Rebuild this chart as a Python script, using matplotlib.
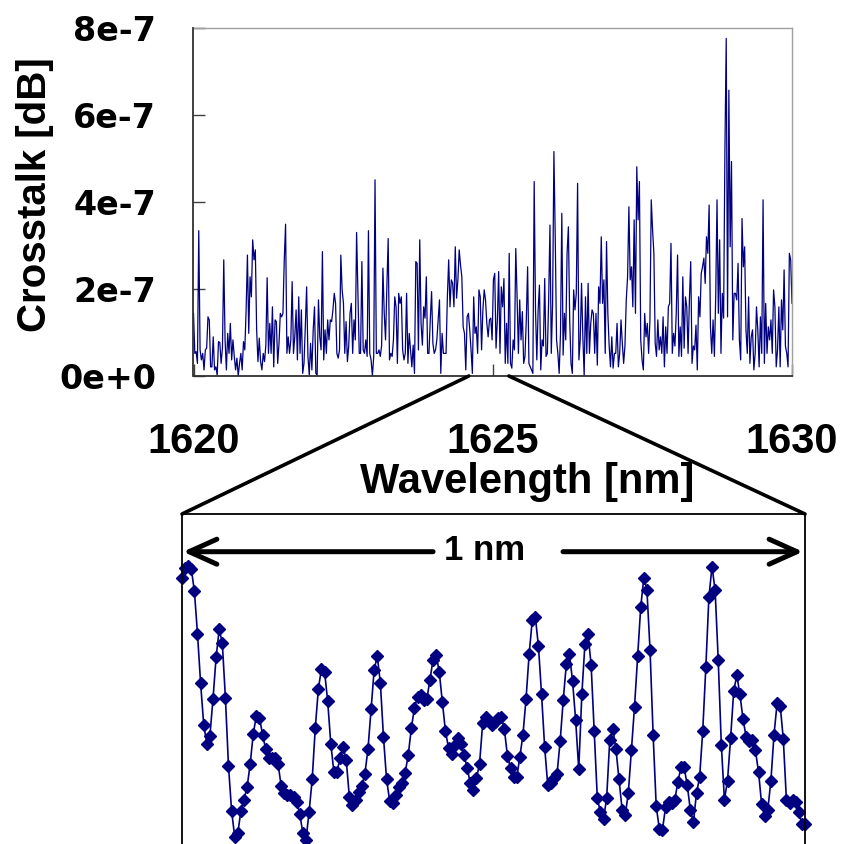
import numpy as np
import matplotlib
matplotlib.use('Agg')
import matplotlib.pyplot as plt
from matplotlib.patches import ConnectionPatch

plt.rcParams['font.family'] = ['Liberation Sans', 'DejaVu Sans']

# Full-range crosstalk trace (units of 1e-7), 1620-1630 nm
crosstalk_full_e7 = [
    1.44, 0.52, 0.56, 0.29, 3.34, 0.60, 0.37, 0.52, 0.14, 0.60,
    0.64, 1.36, 1.29, 0.21, 0.21, 0.90, 0.14, 0.21, 0.02, 0.79,
    0.77, 0.29, 0.64, 2.67, 0.83, 0.14, 0.98, 0.52, 1.21, 0.37,
    0.83, 0.45, 0.14, 0.41, 0.00, 0.29, 0.52, 0.14, 0.79, 0.60,
    1.52, 2.78, 0.98, 2.28, 1.82, 3.13, 2.67, 2.90, 1.06, 0.33,
    0.87, 0.33, 0.14, 0.52, 0.33, 0.71, 2.26, 0.52, 1.21, 0.52,
    1.59, 0.21, 1.29, 1.25, 0.29, 0.75, 1.44, 1.36, 1.44, 2.67,
    3.49, 0.52, 0.90, 0.52, 0.83, 2.17, 0.52, 0.90, 1.52, 0.37,
    1.82, 0.52, 1.52, 0.06, 0.29, 1.13, 2.05, 0.45, 0.02, 0.75,
    0.14, 1.06, 1.59, 0.06, 0.02, 1.75, 0.90, 0.60, 2.86, 0.37,
    1.06, 0.52, 1.29, 0.83, 1.29, 1.25, 1.52, 1.90, 1.67, 0.52,
    0.41, 0.60, 2.78, 1.98, 1.67, 0.52, 1.25, 0.33, 0.69, 1.44,
    1.67, 0.52, 1.29, 0.83, 3.30, 1.90, 0.52, 0.52, 2.63, 0.60,
    0.52, 0.83, 0.45, 3.34, 0.52, 0.37, 0.00, 0.45, 4.51, 0.52,
    0.52, 0.60, 0.45, 0.69, 2.48, 1.44, 0.83, 2.05, 3.16, 0.37,
    0.52, 0.45, 0.83, 1.82, 1.59, 0.29, 1.90, 1.67, 1.82, 0.60,
    0.37, 0.52, 1.90, 0.29, 0.98, 0.60, 0.21, 0.71, 0.06, 2.63,
    2.59, 0.60, 3.13, 1.21, 0.71, 1.59, 1.33, 2.28, 0.52, 0.52,
    1.29, 1.94, 0.75, 0.52, 0.60, 0.83, 1.29, 1.75, 0.06, 0.98,
    0.52, 0.52, 0.52, 1.82, 2.67, 1.59, 2.21, 2.13, 1.59, 2.97,
    1.79, 2.21, 2.90, 2.55, 2.28, 1.13, 0.98, 0.14, 1.36, 1.44,
    1.06, 0.60, 0.06, 1.82, 0.98, 1.13, 0.52, 1.98, 1.82, 0.60,
    1.52, 1.98, 1.75, 1.21, 0.90, 1.29, 1.33, 0.83, 2.21, 2.36,
    0.64, 1.29,
    2.40, 0.52, 2.05, 1.59, 2.24, 0.29, 1.21, 0.29, 2.82, 0.29,
    0.18, 0.83, 0.60, 2.93, 1.82, 0.52, 1.75, 0.83, 1.48, 0.29,
    0.45, 1.29, 2.51, 0.29, 0.21, 0.14, 0.06, 4.47, 1.52, 0.37,
    1.52, 2.09, 0.14, 0.83, 0.69, 2.24, 0.45, 0.52, 1.75, 3.47,
    0.52, 1.67, 5.16, 3.20, 0.83, 0.52, 0.06, 0.98, 3.74, 0.48,
    1.44, 0.83, 2.82, 3.43, 1.29, 0.29, 0.06, 1.98, 1.52, 1.90,
    4.43, 0.37, 0.83, 2.13, 0.90, 0.00, 1.82, 0.52, 2.13, 0.52,
    1.21, 1.52, 1.44, 0.52, 1.44, 0.25, 2.05, 1.67, 3.20, 1.67,
    2.21, 0.52, 3.09, 1.44, 0.69, 0.21, 0.90, 0.18, 0.52, 0.52,
    1.21, 0.21, 0.52, 1.29, 0.75, 0.29, 0.69, 1.75, 2.28, 3.89,
    2.21, 2.51, 1.59, 3.59, 1.44, 4.81, 3.59, 4.47, 0.83, 0.37,
    0.14, 1.44, 0.90, 1.21, 0.52, 1.29, 4.05, 3.36, 2.82, 0.75,
    0.45, 1.29, 0.60, 0.90, 0.52, 1.36, 0.21, 1.13, 0.52, 1.59,
    1.67, 3.05, 0.52, 0.98, 0.69, 1.44, 2.78, 0.45, 1.13, 0.45,
    2.28, 0.64, 1.82, 1.59, 0.52, 1.75, 2.63, 0.29, 0.69, 0.60,
    1.17, 0.14, 1.82, 1.36, 2.36, 2.51, 2.71, 2.13, 3.20, 2.82,
    3.93, 1.13, 0.52, 1.29, 0.45, 1.82, 4.05, 1.44, 3.13, 0.52,
    1.90, 1.33, 5.20, 7.76, 1.36, 6.57, 2.97, 4.93, 0.83, 1.90,
    1.90, 1.75, 2.59, 0.83, 0.37, 3.62, 2.51, 2.97, 1.06, 0.52,
    1.82, 0.29, 0.90, 1.06, 0.14, 0.52, 1.59, 1.06, 0.21, 1.36,
    0.52, 4.05, 0.29, 1.67, 0.52, 1.13, 0.83, 1.29, 0.52, 1.98,
    1.59, 0.21, 0.60, 1.59, 0.21, 1.75, 1.06, 2.44, 0.69, 0.52,
    0.21, 2.82, 2.67, 1.67,
]

# Zoomed 1 nm span (units of 1e-7), 5 pm steps
crosstalk_zoom_e7 = [
    2.43, 2.52, 2.54, 2.51, 2.31, 1.93, 1.49, 1.12, 0.95, 1.02,
    1.35, 1.72, 1.97, 1.85, 1.36, 0.75, 0.35, 0.12, 0.15, 0.35,
    0.45, 0.56, 0.77, 1.04, 1.20, 1.18, 1.03, 0.90, 0.82, 0.82,
    0.82, 0.77, 0.57, 0.51, 0.49, 0.49, 0.47, 0.43, 0.32, 0.15,
    0.09, 0.34, 0.63, 1.09, 1.44, 1.62, 1.59, 1.33, 0.95, 0.70,
    0.70, 0.82, 0.92, 0.80, 0.47, 0.40, 0.45, 0.52, 0.57, 0.68,
    0.90, 1.26, 1.61, 1.73, 1.49, 1.01, 0.63, 0.44, 0.42, 0.49,
    0.56, 0.60, 0.69, 0.85, 1.09, 1.27, 1.37, 1.38, 1.34, 1.35,
    1.52, 1.70, 1.74, 1.59, 1.32, 1.06, 0.91, 0.86, 0.94, 1.00,
    0.95, 0.85, 0.73, 0.60, 0.54, 0.64, 0.77, 1.13, 1.19, 1.15,
    1.12, 1.14, 1.18, 1.19, 1.08, 0.84,
    0.73, 0.65, 0.65, 0.83, 1.03, 1.35, 1.75, 2.05, 2.08, 1.82,
    1.39, 0.92, 0.58, 0.60, 0.64, 0.68, 0.97, 1.34, 1.66, 1.75,
    1.51, 1.16, 0.72, 1.39, 1.84, 1.93, 1.65, 1.06, 0.46, 0.34,
    0.28, 0.46, 0.98, 1.08, 0.90, 0.63, 0.36, 0.31, 0.51, 0.89,
    1.28, 1.73, 2.17, 2.43, 2.32, 1.79, 1.03, 0.39, 0.19, 0.18,
    0.38, 0.43, 0.42, 0.45, 0.61, 0.74, 0.74, 0.58, 0.36, 0.25,
    0.51, 0.65, 1.06, 1.63, 2.26, 2.53, 2.32, 1.70, 0.94, 0.45,
    0.62, 1.00, 1.42, 1.56, 1.39, 1.17, 1.01, 0.97, 0.98, 0.89,
    0.70, 0.41, 0.30, 0.36, 0.62, 1.03, 1.31, 1.29, 0.99, 0.45,
    0.42, 0.45, 0.43, 0.34, 0.23, 0.23,
]

full_range = [1620.0, 1630.0]
zoom_range = [1624.5, 1625.5]
zoom_source = [1624.6, 1625.27]
x_ticks = [1620, 1625, 1630]
y_ticks = [0, 2e-7, 4e-7, 6e-7, 8e-7]
y_tick_labels = ['0e+0', '2e-7', '4e-7', '6e-7', '8e-7']

crosstalk_full = np.array(crosstalk_full_e7) * 1e-7
wavelength_full = np.linspace(full_range[0], full_range[1], len(crosstalk_full))
crosstalk_zoom = np.array(crosstalk_zoom_e7) * 1e-7
wavelength_zoom = np.linspace(zoom_range[0], zoom_range[1], len(crosstalk_zoom))

NAVY = '#000080'
W, H = 845, 844
fig = plt.figure(figsize=(W / 100, H / 100), dpi=100)

# ---- main axes ----
ax = fig.add_axes([193.5 / W, 1 - 376 / H, (792 - 193.5) / W, 348 / H])
ax.plot(wavelength_full, crosstalk_full, color=NAVY, lw=0.9)
ax.set_xlim(*full_range)
ax.set_ylim(0, 8e-7)
ax.set_xticks(x_ticks)
ax.set_yticks(y_ticks)
ax.set_yticklabels(y_tick_labels)
ax.tick_params(direction='in', length=8.5, width=1.0, color='#404040')
ax.tick_params(axis='y', pad=27)
ax.tick_params(axis='x', pad=33)
for lab in ax.get_yticklabels():
    lab.set_fontfamily(['DejaVu Sans'])
    lab.set_fontweight('bold')
    lab.set_fontsize(24)
for lab in ax.get_xticklabels():
    lab.set_fontweight('bold')
    lab.set_fontsize(30)
for side in ['left', 'bottom']:
    ax.spines[side].set_color('#303030')
    ax.spines[side].set_linewidth(1.3)
for side in ['top', 'right']:
    ax.spines[side].set_color('#a0a0a0')
    ax.spines[side].set_linewidth(1.0)

ax.set_ylabel('Crosstalk [dB]', fontsize=29, fontweight='bold', va='center')
ax.yaxis.set_label_coords(-0.2646, 0.52)
ax.set_xlabel('Wavelength [nm]', fontsize=30, fontweight='bold', va='baseline')
ax.xaxis.set_label_coords(0.5576, -0.336)

# ---- zoom axes ----
ax2 = fig.add_axes([182 / W, (H - 850) / H, 623 / W, 336 / H])
ax2.plot(wavelength_zoom, crosstalk_zoom, color=NAVY, lw=1.2, marker='D',
         ms=6, mec=NAVY, mfc=NAVY, clip_on=False)
ax2.set_xlim(*zoom_range)
ax2.set_ylim(0, 3e-7)
ax2.set_xticks([])
ax2.set_yticks([])
for side in ['left', 'top', 'right']:
    ax2.spines[side].set_color('black')
    ax2.spines[side].set_linewidth(1.3)
ax2.spines['bottom'].set_visible(False)

y_arrow = (850 - 551.7) / 336
arrow_kw = dict(arrowstyle='->, head_length=1.0, head_width=0.45', lw=3.6,
                color='black', mutation_scale=20, shrinkA=0, shrinkB=0)
ax2.annotate('', xy=(0.0016, y_arrow), xytext=(0.403, y_arrow),
             xycoords='axes fraction', textcoords='axes fraction', arrowprops=arrow_kw)
ax2.annotate('', xy=(0.9968, y_arrow), xytext=(0.6116, y_arrow),
             xycoords='axes fraction', textcoords='axes fraction', arrowprops=arrow_kw)
ax2.text(0.4856, (850 - 560) / 336, '1 nm', transform=ax2.transAxes,
         ha='center', va='baseline', fontsize=25, fontweight='bold')

# ---- connector lines ----
for xs, xb in [(zoom_source[0], 0.0), (zoom_source[1], 1.0)]:
    con = ConnectionPatch(xyA=(xs, 0), coordsA=ax.transData,
                          xyB=(xb, 1.0), coordsB=ax2.transAxes,
                          color='black', lw=2.6)
    fig.add_artist(con)

fig.savefig('out.png', dpi=100)
